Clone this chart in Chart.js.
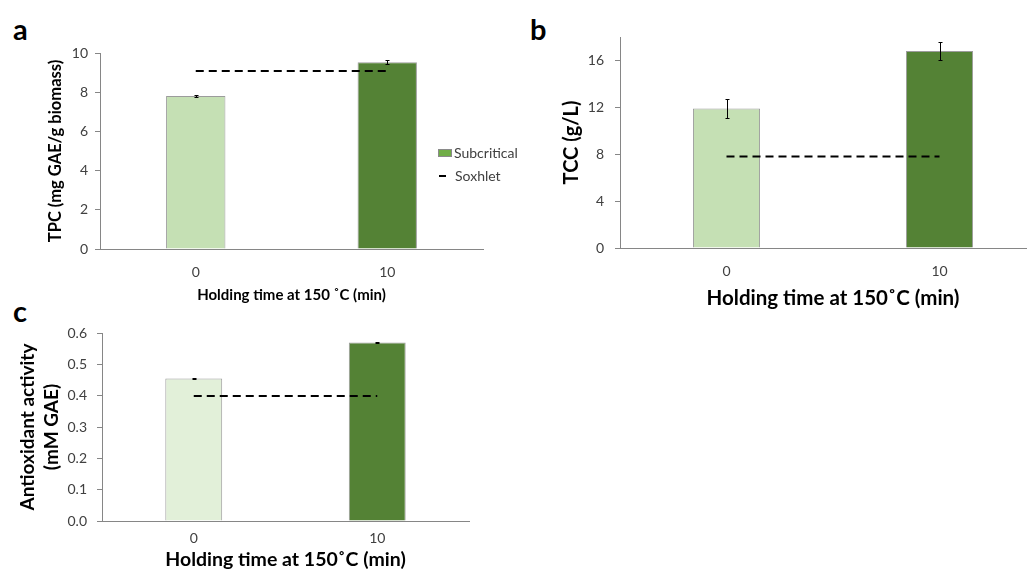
<!DOCTYPE html>
<html>
<head>
<meta charset="utf-8">
<script src="https://cdn.jsdelivr.net/npm/chart.js@4.4.0/dist/chart.umd.min.js"></script>
<style>
    body { margin: 0; width: 1027px; height: 569px; overflow: hidden; background: #fff; position: relative; font-family: Lato, sans-serif; }
    canvas { position: absolute; }
    .panel { position: absolute; font-weight: bold; font-size: 29px; line-height: 1; color: #000; }
    .legend { position: absolute; left: 438px; top: 141px; font-size: 14px; color: #404040; line-height: 23px; }
    .legend span.sw { display: inline-block; width: 14px; height: 8px; background: #70AD47; border: 1px solid #8a8a8a; margin-right: 2px; vertical-align: 1px; box-sizing: border-box; }
    .legend span.dash { display: inline-block; width: 7px; height: 2px; background: #000; margin: 0 9px 0 1px; vertical-align: 4px; }
</style>
</head>
<body>
<div class="panel" style="left:13px; top:14px;">a</div>
<div class="panel" style="left:530px; top:14px;">b</div>
<div class="panel" style="left:13px; top:296px;">c</div>

<canvas id="chartA" width="520" height="310" style="left:0; top:0;"></canvas>
<canvas id="chartB" width="530" height="320" style="left:530px; top:0;"></canvas>
<canvas id="chartC" width="500" height="269" style="left:0; top:300px;"></canvas>

<div class="legend">
    <div><span class="sw"></span>Subcritical</div>
    <div><span class="dash"></span>Soxhlet</div>
</div>

<script>
// categories (holding time, min)
const times = ['0', '10'];

// a: TPC
const tpc = [7.81, 9.53];
const tpcErr = [0.03, 0.1];
const tpcSoxhlet = [9.08, 9.08];
const tpcTicks = [0, 2, 4, 6, 8, 10];

// b: TCC
const tcc = [11.9, 16.8];
const tccErr = [0.8, 0.8];
const tccSoxhlet = [7.8, 7.8];
const tccTicks = [0, 4, 8, 12, 16];

// c: antioxidant activity
const aox = [0.455, 0.570];
const aoxErr = [0.002, 0.002];
const aoxSoxhlet = [0.399, 0.399];
const aoxTicks = [0, 0.1, 0.2, 0.3, 0.4, 0.5, 0.6];

Chart.defaults.font.family = 'Lato, sans-serif';
Chart.defaults.color = '#404040';

const AXIS = '#868686';

// simple error bars drawn from the bar dataset
const errorBars = {
    id: 'errorBars',
    afterDatasetsDraw(chart) {
        const ctx = chart.ctx;
        const y = chart.scales.y;
        const ds = chart.data.datasets[0];
        const meta = chart.getDatasetMeta(0);
        ctx.save();
        ctx.strokeStyle = '#000';
        ctx.lineWidth = 1;
        meta.data.forEach((bar, i) => {
            const top = Math.round(y.getPixelForValue(ds.data[i] + ds.errors[i])) + 0.5;
            const bottom = Math.round(y.getPixelForValue(ds.data[i] - ds.errors[i])) + 0.5;
            const x = Math.round(bar.x) + 0.5;
            ctx.beginPath();
            ctx.moveTo(x, top - 0.5);
            ctx.lineTo(x, bottom + 0.5);
            ctx.moveTo(x - 2, top);
            ctx.lineTo(x + 2, top);
            ctx.moveTo(x - 2, bottom);
            ctx.lineTo(x + 2, bottom);
            ctx.stroke();
        });
        ctx.restore();
    }
};

function generatePanel(id, cfg) {
    const ctx = document.getElementById(id).getContext('2d');

    return new Chart(ctx, {
        type: 'bar',
        data: {
            labels: times,
            datasets: [{
                type: 'bar',
                label: 'Subcritical',
                data: cfg.values,
                errors: cfg.errors,
                backgroundColor: cfg.colors,
                borderColor: '#9c9c9c',
                borderWidth: 1,
                barPercentage: cfg.barPct,
                categoryPercentage: 1,
                order: 1
            }, {
                type: 'line',
                label: 'Soxhlet',
                data: cfg.soxhlet,
                borderColor: '#000',
                borderWidth: 2,
                borderDash: [8, 5],
                pointRadius: 0,
                fill: false,
                order: 0
            }]
        },
        options: {
            responsive: false,
            animation: false,
            layout: { padding: cfg.padding },
            scales: {
                x: {
                    grid: { display: false, drawTicks: false },
                    border: { display: true, color: AXIS, width: 1 },
                    ticks: { padding: cfg.xTickPad, font: { size: 14 }, maxRotation: 0 },
                    title: {
                        display: true,
                        text: cfg.xTitle,
                        font: { size: cfg.xTitleSize, weight: 'bold' },
                        color: '#000',
                        padding: { top: 0, bottom: cfg.xTitlePad }
                    },
                    afterFit: (axis) => { axis.height = cfg.xHeight; }
                },
                y: {
                    min: 0,
                    max: cfg.max,
                    grid: { drawOnChartArea: false, drawTicks: true, tickLength: 5, color: AXIS },
                    border: { display: true, color: AXIS, width: 1 },
                    ticks: {
                        padding: cfg.yTickPad,
                        font: { size: 14 },
                        callback: cfg.fmt
                    },
                    afterBuildTicks: (axis) => { axis.ticks = cfg.ticks.map(v => ({ value: v })); },
                    title: {
                        display: true,
                        text: cfg.yTitle,
                        font: { size: cfg.yTitleSize, weight: 'bold', lineHeight: 1.25 },
                        color: '#000',
                        padding: { top: cfg.yTitlePad, bottom: 0 }
                    },
                    afterFit: (axis) => { axis.width = cfg.yWidth; }
                }
            },
            plugins: {
                legend: { display: false },
                tooltip: { enabled: false }
            }
        },
        plugins: [errorBars]
    });
}

generatePanel('chartA', {
    values: tpc, errors: tpcErr, soxhlet: tpcSoxhlet, ticks: tpcTicks, max: 10,
    colors: ['#C5E0B4', '#548235'], barPct: 0.31,
    padding: { top: 53, right: 37, left: 0, bottom: 0 },
    yWidth: 100, xHeight: 61, xTickPad: 15, yTickPad: 7,
    xTitle: 'Holding time at 150 ˚C (min)', xTitleSize: 15, xTitlePad: 6,
    yTitle: 'TPC (mg GAE/g biomass)', yTitleSize: 16.5, yTitlePad: 45,
    fmt: (v) => v
});

generatePanel('chartB', {
    values: tcc, errors: tccErr, soxhlet: tccSoxhlet, ticks: tccTicks, max: 18,
    colors: ['#C5E0B4', '#548235'], barPct: 0.315,
    padding: { top: 37, right: 14, left: 0, bottom: 0 },
    yWidth: 90, xHeight: 72, xTickPad: 15, yTickPad: 11,
    xTitle: 'Holding time at 150˚C (min)', xTitleSize: 20.5, xTitlePad: 9,
    yTitle: 'TCC (g/L)', yTitleSize: 20, yTitlePad: 29,
    fmt: (v) => v
});

generatePanel('chartC', {
    values: aox, errors: aoxErr, soxhlet: aoxSoxhlet, ticks: aoxTicks, max: 0.6,
    colors: ['#E2F0D9', '#548235'], barPct: 0.31,
    padding: { top: 33, right: 31, left: 0, bottom: 0 },
    yWidth: 102, xHeight: 48, xTickPad: 9, yTickPad: 10,
    xTitle: 'Holding time at 150˚C (min)', xTitleSize: 19.5, xTitlePad: -2,
    yTitle: ['Antioxidant activity', '(mM GAE)'], yTitleSize: 19, yTitlePad: 16,
    fmt: (v) => v.toFixed(1)
});
</script>
</body>
</html>
